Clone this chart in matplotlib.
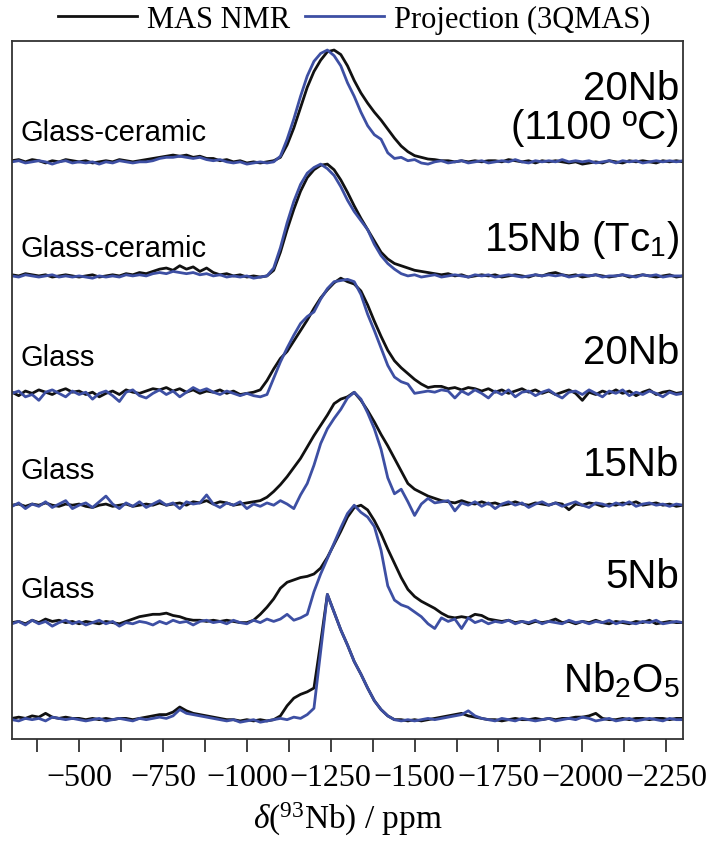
import numpy as np
import matplotlib.pyplot as plt
from matplotlib.ticker import MultipleLocator

plt.rcParams['font.family'] = ['Liberation Serif', 'DejaVu Serif']
plt.rcParams['mathtext.fontset'] = 'custom'
plt.rcParams['mathtext.rm'] = 'Liberation Serif'
plt.rcParams['mathtext.it'] = 'Liberation Serif:italic'
plt.rcParams['mathtext.sf'] = 'Liberation Sans'

# chemical shift grid (ppm), 20 ppm steps from -300 to -2300
ppm = np.arange(-300, -2301, -20)

# normalised intensities, one row = 200 ppm
mas_20nb_1100 = [
    0.02, 0.03, 0.01, 0.03, 0.02, 0.00, 0.02, 0.01, 0.03, 0.02,
    0.01, 0.02, 0.00, 0.01, 0.02, 0.01, 0.03, 0.02, 0.01, 0.02,
    0.03, 0.04, 0.05, 0.06, 0.07, 0.06, 0.07, 0.05, 0.06, 0.04,
    0.04, 0.02, 0.03, 0.01, 0.02, 0.00, 0.01, 0.00, 0.01, 0.02,
    0.05, 0.16, 0.31, 0.49, 0.67, 0.81, 0.91, 0.985, 1.0, 0.96,
    0.86, 0.73, 0.62, 0.53, 0.45, 0.38, 0.30, 0.22, 0.15, 0.10,
    0.065, 0.05, 0.035, 0.03, 0.02, 0.02, 0.01, 0.02, 0.01, 0.02,
    0.01, 0.02, 0.02, 0.01, 0.03, 0.02, 0.01, 0.02, 0.00, 0.02,
    0.01, 0.02, 0.01, 0.00, 0.01, -0.01, 0.00, 0.01, 0.00, 0.02,
    0.01, 0.00, 0.02, 0.01, 0.02, 0.01, 0.00, 0.02, 0.01, 0.02,
    0.01]
proj_20nb_1100 = [
    0.01, 0.02, 0.00, 0.01, 0.02, 0.01, -0.01, 0.01, 0.02, 0.00,
    0.01, 0.00, 0.01, -0.01, 0.01, 0.00, 0.02, 0.01, 0.00, 0.01,
    0.01, 0.02, 0.04, 0.05, 0.05, 0.06, 0.05, 0.04, 0.05, 0.03,
    0.02, 0.03, 0.01, 0.00, 0.01, -0.01, 0.00, 0.01, 0.00, 0.01,
    0.06, 0.21, 0.39, 0.59, 0.77, 0.90, 0.97, 1.0, 0.95, 0.86,
    0.71, 0.59, 0.45, 0.33, 0.25, 0.21, 0.09, 0.04, 0.05, 0.02,
    0.03, 0.00, -0.01, 0.01, 0.02, 0.00, 0.01, 0.02, 0.00, 0.01,
    0.02, 0.00, 0.01, 0.02, 0.01, 0.03, 0.01, 0.00, 0.02, 0.01,
    0.02, 0.01, 0.03, 0.01, 0.02, 0.01, 0.02, 0.00, 0.01, 0.02,
    0.00, 0.02, 0.01, 0.02, 0.00, 0.01, 0.02, 0.01, 0.02, 0.01,
    0.02]

mas_15nb_tc1 = [
    0.02, 0.01, 0.03, 0.02, 0.01, 0.02, 0.00, 0.01, 0.02, 0.01,
    0.00, 0.01, 0.02, 0.00, 0.01, 0.02, 0.01, 0.03, 0.02, 0.04,
    0.03, 0.05, 0.07, 0.08, 0.06, 0.10, 0.07, 0.09, 0.05, 0.08,
    0.04, 0.02, 0.03, 0.01, 0.02, 0.00, 0.01, 0.00, 0.01, 0.06,
    0.22, 0.42, 0.60, 0.76, 0.88, 0.95, 0.99, 1.0, 0.95, 0.86,
    0.75, 0.63, 0.52, 0.42, 0.32, 0.22, 0.16, 0.12, 0.10, 0.08,
    0.06, 0.05, 0.04, 0.03, 0.02, 0.03, 0.01, 0.02, 0.00, 0.01,
    0.02, 0.01, 0.02, 0.00, 0.01, 0.02, 0.01, 0.00, 0.02, 0.01,
    0.03, 0.04, 0.02, 0.01, 0.02, 0.00, 0.01, 0.02, 0.01, 0.00,
    0.01, 0.02, 0.00, 0.01, 0.02, 0.01, 0.00, 0.01, 0.02, 0.00,
    0.01]
proj_15nb_tc1 = [
    0.01, 0.00, 0.02, 0.01, 0.00, 0.01, 0.02, 0.00, 0.01, 0.00,
    0.01, 0.00, -0.01, 0.01, 0.00, 0.01, 0.00, 0.02, 0.01, 0.02,
    0.01, 0.03, 0.04, 0.03, 0.05, 0.04, 0.03, 0.04, 0.02, 0.03,
    0.01, 0.02, 0.00, 0.01, 0.00, 0.01, -0.01, 0.00, 0.01, 0.08,
    0.26, 0.48, 0.67, 0.82, 0.92, 0.97, 1.0, 0.96, 0.90, 0.80,
    0.68, 0.58, 0.50, 0.42, 0.29, 0.19, 0.12, 0.07, 0.03, 0.01,
    0.02, 0.00, 0.01, 0.02, 0.00, 0.01, 0.02, 0.01, 0.00, 0.02,
    0.01, 0.02, 0.00, 0.01, 0.02, 0.01, 0.00, 0.01, 0.02, 0.01,
    0.02, 0.01, 0.02, 0.00, 0.01, 0.02, 0.01, 0.02, 0.00, 0.01,
    0.01, 0.02, 0.01, 0.00, 0.02, 0.01, 0.02, 0.00, 0.01, 0.01,
    0.01]

mas_20nb = [
    0.02, -0.01, 0.03, 0.01, 0.04, 0.02, 0.00, 0.03, 0.05, 0.02,
    0.03, 0.00, 0.02, -0.02, 0.01, 0.03, 0.00, 0.04, 0.02, 0.01,
    0.03, 0.05, 0.04, 0.06, 0.03, 0.05, 0.02, 0.04, 0.01, 0.03,
    0.02, 0.04, 0.01, 0.03, 0.00, 0.01, 0.02, 0.04, 0.12, 0.22,
    0.31, 0.37, 0.46, 0.55, 0.64, 0.74, 0.83, 0.90, 0.96, 1.0,
    0.97, 0.95, 0.89, 0.77, 0.63, 0.50, 0.38, 0.29, 0.23, 0.18,
    0.13, 0.09, 0.06, 0.07, 0.07, 0.05, 0.06, 0.04, 0.06, 0.05,
    0.03, 0.05, 0.02, 0.04, 0.01, 0.03, 0.05, 0.02, 0.04, 0.01,
    0.03, 0.00, 0.02, 0.04, 0.01, -0.05, 0.02, 0.00, 0.03, 0.01,
    0.04, 0.01, 0.03, -0.01, 0.02, 0.04, 0.00, 0.02, 0.03, 0.01,
    0.02]
proj_20nb = [
    0.01, 0.03, -0.02, 0.00, -0.05, 0.02, 0.04, 0.01, -0.02, 0.03,
    0.00, 0.02, -0.04, 0.01, 0.03, -0.01, -0.06, 0.02, 0.04, -0.01,
    -0.03, 0.01, 0.04, 0.00, 0.03, -0.02, 0.02, 0.06, 0.03, 0.05,
    0.02, 0.00, 0.03, 0.01, -0.01, 0.01, -0.01, -0.02, 0.00, 0.14,
    0.28, 0.40, 0.51, 0.61, 0.67, 0.71, 0.82, 0.91, 0.97, 0.98,
    0.99, 0.97, 0.86, 0.69, 0.55, 0.40, 0.25, 0.15, 0.11, 0.09,
    0.01, 0.02, 0.03, 0.02, 0.04, 0.03, -0.03, 0.03, 0.00, 0.04,
    0.01, -0.03, 0.03, 0.00, 0.04, -0.02, 0.02, 0.03, -0.01, 0.02,
    0.04, 0.00, -0.03, 0.02, 0.03, 0.00, 0.04, 0.01, -0.02, 0.03,
    0.01, 0.04, -0.01, 0.02, 0.00, 0.03, 0.01, -0.02, 0.02, 0.00,
    0.01]

mas_15nb = [
    0.01, 0.02, 0.00, 0.02, 0.01, 0.03, 0.01, 0.00, 0.02, 0.01,
    0.02, 0.00, -0.01, 0.01, 0.02, 0.00, 0.01, 0.02, 0.00, 0.01,
    0.02, 0.01, 0.03, 0.01, 0.02, 0.03, 0.01, 0.04, 0.03, 0.05,
    0.02, 0.04, 0.03, 0.01, 0.02, 0.03, 0.04, 0.05, 0.08, 0.13,
    0.19, 0.26, 0.34, 0.42, 0.52, 0.62, 0.71, 0.80, 0.90, 0.94,
    0.96, 1.0, 0.93, 0.84, 0.74, 0.63, 0.53, 0.42, 0.31, 0.20,
    0.15, 0.12, 0.09, 0.07, 0.05, 0.04, 0.03, 0.05, 0.03, 0.02,
    0.04, 0.02, 0.03, 0.01, 0.02, 0.04, 0.02, 0.01, 0.03, 0.02,
    0.01, 0.03, 0.02, -0.03, 0.02, 0.01, 0.03, 0.02, 0.00, 0.02,
    0.01, 0.03, 0.02, 0.04, 0.01, 0.02, 0.03, 0.01, 0.02, 0.00,
    0.01]
proj_15nb = [
    0.00, 0.03, -0.02, 0.02, 0.00, 0.04, -0.01, 0.02, 0.05, -0.02,
    0.01, 0.03, -0.01, 0.04, 0.09, 0.02, -0.02, 0.03, 0.00, 0.04,
    -0.01, 0.02, 0.05, 0.01, 0.03, -0.02, 0.04, 0.02, 0.03, 0.10,
    0.02, -0.01, 0.03, 0.01, 0.04, -0.02, 0.02, 0.00, 0.03, 0.01,
    0.05, 0.02, -0.02, 0.10, 0.20, 0.36, 0.55, 0.68, 0.77, 0.85,
    0.95, 1.0, 0.94, 0.82, 0.68, 0.50, 0.25, 0.11, 0.15, 0.04,
    -0.08, 0.02, 0.07, 0.03, 0.04, 0.05, -0.04, 0.03, 0.01, 0.04,
    0.00, 0.03, -0.02, 0.02, 0.04, 0.01, 0.03, -0.01, 0.02, 0.04,
    0.01, 0.03, 0.00, 0.02, 0.04, 0.01, -0.01, 0.03, 0.02, 0.00,
    0.03, 0.01, 0.04, 0.00, 0.02, 0.03, 0.01, 0.02, 0.00, 0.02,
    0.01]

mas_5nb = [
    0.01, 0.02, 0.00, 0.03, 0.01, 0.04, 0.02, 0.03, 0.01, 0.02,
    0.00, 0.02, 0.01, 0.00, 0.02, 0.01, 0.00, 0.02, 0.04, 0.06,
    0.07, 0.08, 0.08, 0.09, 0.07, 0.06, 0.04, 0.03, 0.03, 0.02,
    0.03, 0.02, 0.03, 0.02, 0.01, 0.01, 0.03, 0.08, 0.14, 0.21,
    0.30, 0.35, 0.37, 0.39, 0.40, 0.42, 0.47, 0.56, 0.67, 0.78,
    0.90, 0.98, 1.0, 0.96, 0.87, 0.76, 0.63, 0.51, 0.39, 0.29,
    0.23, 0.19, 0.16, 0.13, 0.09, 0.06, 0.05, 0.06, 0.05, 0.08,
    0.07, 0.04, 0.03, 0.02, 0.03, 0.01, 0.02, 0.00, 0.02, 0.01,
    0.02, 0.04, 0.01, 0.02, 0.00, 0.02, 0.01, 0.03, 0.01, 0.00,
    0.02, 0.01, 0.00, 0.02, 0.01, 0.03, 0.00, 0.01, 0.02, 0.01,
    0.01]
proj_5nb = [
    0.00, 0.02, -0.01, 0.03, 0.00, 0.02, -0.02, 0.01, 0.03, 0.00,
    0.02, -0.01, 0.01, 0.03, 0.00, 0.02, -0.02, 0.01, 0.00, 0.02,
    0.01, -0.01, 0.02, 0.00, 0.03, 0.01, 0.02, -0.01, 0.02, 0.03,
    0.01, 0.02, 0.00, 0.03, 0.01, 0.00, 0.03, 0.01, 0.04, 0.02,
    0.04, 0.08, 0.03, 0.05, 0.08, 0.27, 0.42, 0.55, 0.68, 0.81,
    0.93, 1.0, 0.94, 0.90, 0.82, 0.62, 0.32, 0.20, 0.16, 0.14,
    0.10, 0.06, 0.00, -0.04, 0.05, 0.02, 0.04, -0.04, 0.05, 0.01,
    0.03, 0.00, 0.02, 0.01, 0.03, 0.00, 0.02, 0.01, 0.03, 0.00,
    0.02, 0.01, 0.00, 0.03, 0.01, 0.02, 0.00, 0.02, 0.01, 0.03,
    0.00, 0.02, 0.01, 0.00, 0.02, 0.01, 0.03, 0.00, 0.01, 0.02,
    0.01]

mas_nb2o5 = [
    0.02, 0.03, 0.02, 0.04, 0.03, 0.06, 0.03, 0.02, 0.03, 0.02,
    0.02, 0.01, 0.02, 0.01, 0.02, 0.01, 0.02, 0.02, 0.01, 0.02,
    0.03, 0.04, 0.05, 0.05, 0.07, 0.11, 0.08, 0.06, 0.05, 0.04,
    0.03, 0.02, 0.01, 0.01, 0.00, 0.01, 0.00, 0.01, 0.00, 0.01,
    0.04, 0.12, 0.18, 0.21, 0.23, 0.26, 0.62, 1.0, 0.86, 0.72,
    0.60, 0.47, 0.37, 0.26, 0.16, 0.09, 0.04, 0.01, 0.01, 0.00,
    0.01, 0.00, 0.01, 0.02, 0.03, 0.04, 0.05, 0.06, 0.04, 0.03,
    0.02, 0.01, 0.01, 0.00, 0.01, 0.02, 0.01, 0.01, 0.02, 0.01,
    0.02, 0.01, 0.02, 0.02, 0.03, 0.03, 0.04, 0.06, 0.02, 0.01,
    0.01, 0.02, 0.01, 0.02, 0.02, 0.01, 0.02, 0.02, 0.01, 0.02,
    0.02]
proj_nb2o5 = [
    0.01, 0.00, 0.02, 0.01, 0.02, 0.00, 0.03, 0.02, 0.01, 0.02,
    0.01, 0.00, 0.01, 0.02, 0.00, 0.01, 0.02, 0.01, 0.00, 0.02,
    0.01, 0.02, 0.03, 0.02, 0.04, 0.09, 0.06, 0.05, 0.04, 0.03,
    0.02, 0.01, 0.00, 0.01, -0.01, 0.00, 0.01, -0.01, 0.00, 0.01,
    0.02, 0.01, 0.03, 0.02, 0.05, 0.10, 0.55, 1.0, 0.86, 0.72,
    0.60, 0.47, 0.37, 0.26, 0.16, 0.09, 0.04, 0.01, 0.00, 0.01,
    0.00, 0.01, 0.02, 0.01, 0.02, 0.03, 0.04, 0.05, 0.08, 0.04,
    0.02, 0.01, 0.00, 0.02, 0.01, 0.00, 0.02, 0.01, 0.00, 0.01,
    0.02, 0.00, 0.01, 0.02, 0.01, 0.03, 0.02, 0.00, 0.01, 0.02,
    0.00, 0.01, 0.02, 0.00, 0.01, 0.02, 0.01, 0.00, 0.02, 0.01,
    0.01]

sample_labels = ['20Nb\n(1100 ºC)', r'15Nb (Tc$_\mathsf{1}$)', '20Nb', '15Nb', '5Nb',
                 r'Nb$_\mathsf{2}$O$_\mathsf{5}$']
state_labels = ['Glass-ceramic', 'Glass-ceramic', 'Glass', 'Glass', 'Glass']
mas = [mas_20nb_1100, mas_15nb_tc1, mas_20nb, mas_15nb, mas_5nb, mas_nb2o5]
proj = [proj_20nb_1100, proj_15nb_tc1, proj_20nb, proj_15nb, proj_5nb, proj_nb2o5]

# stacking (top to bottom): baseline offset and peak height
offsets = [5.10, 4.09, 3.05, 2.06, 1.02, 0.16]
heights = [1.0, 1.0, 1.03, 1.01, 1.05, 1.12]
sample_y = [0.905, 0.716, 0.554, 0.394, 0.233, 0.086]
state_y = [0.870, 0.703, 0.547, 0.385, 0.215]

black = '#111111'
blue = '#3d4fa3'

fig = plt.figure(figsize=(7.08, 8.45), dpi=100)
ax = fig.add_axes([12 / 708, 1 - 740 / 845, 671 / 708, 698 / 845])

for i in range(len(mas)):
    ax.plot(ppm, offsets[i] + heights[i] * np.array(mas[i]), color=black, lw=2.0,
            label='MAS NMR' if i == 0 else None)
    ax.plot(ppm, offsets[i] + heights[i] * np.array(proj[i]), color=blue, lw=2.0,
            label='Projection (3QMAS)' if i == 0 else None)

for i, lab in enumerate(sample_labels):
    ax.text(0.995, sample_y[i], lab, transform=ax.transAxes, ha='right', va='center',
            fontsize=29, family='Liberation Sans', linespacing=1.05)
for i, lab in enumerate(state_labels):
    ax.text(0.012, state_y[i], lab, transform=ax.transAxes, ha='left', va='center',
            fontsize=21, family='Liberation Sans')

ax.set_xlim(-300, -2300)
ax.set_ylim(0, 6.18)
ax.set_yticks([])
ax.xaxis.set_major_locator(MultipleLocator(250))
ax.xaxis.set_minor_locator(MultipleLocator(125))
ax.set_xticks(np.arange(-500, -2251, -250))
ax.tick_params(axis='x', which='both', direction='out', length=9, width=1.3,
               color='#333333', labelsize=23, pad=8)
for s in ax.spines.values():
    s.set_linewidth(1.3)
    s.set_color('#333333')
ax.set_xlabel(r'$\delta$($^{93}$Nb) / ppm', fontsize=24, labelpad=6)

fig.legend(loc='center', bbox_to_anchor=(0.5, 1 - 20 / 845), ncol=2, frameon=False,
           fontsize=22, handlelength=2.6, handletextpad=0.3, columnspacing=0.5,
           borderpad=0.1)

fig.savefig('out.png', dpi=100)
